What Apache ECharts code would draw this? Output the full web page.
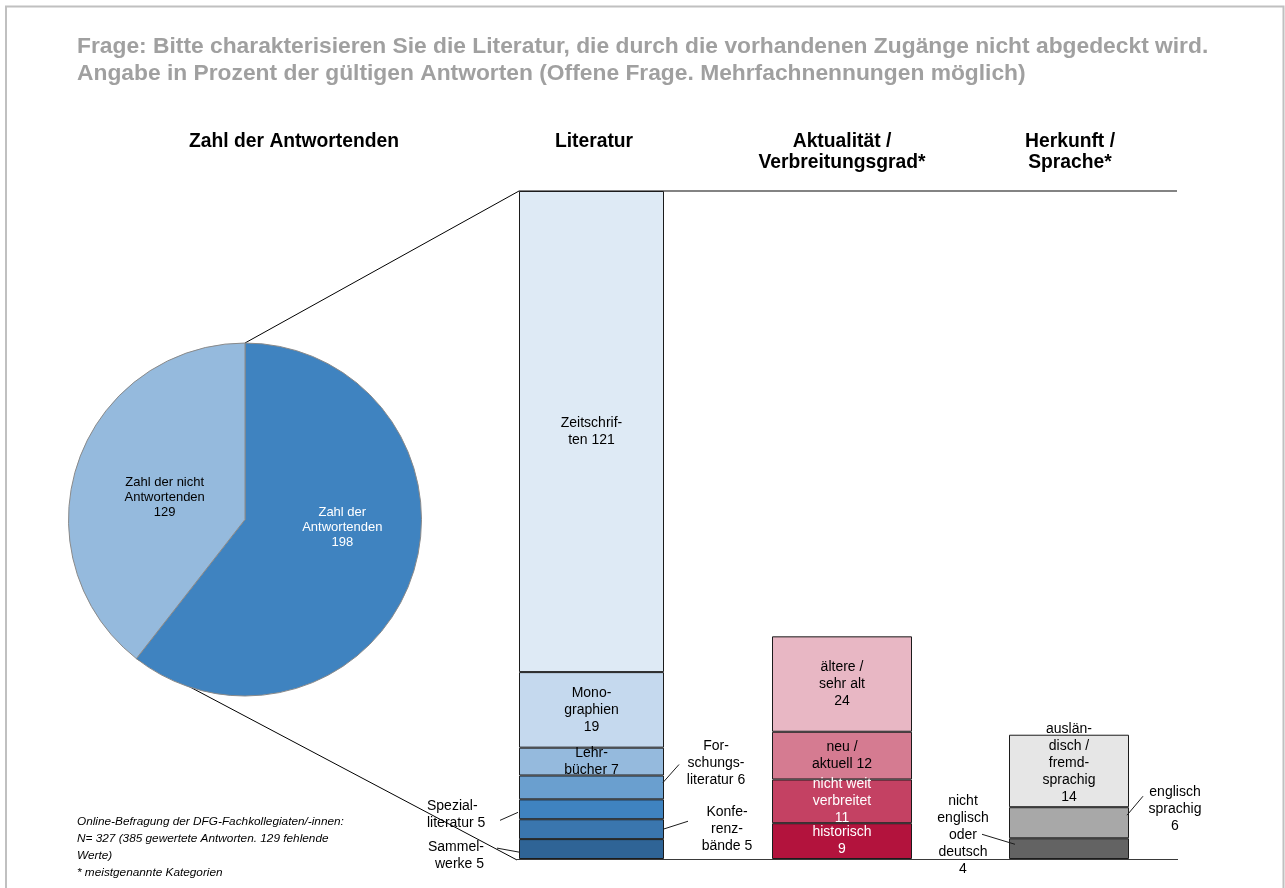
<!DOCTYPE html>
<html>
<head>
<meta charset="utf-8">
<script src="https://cdn.jsdelivr.net/npm/echarts@6/dist/echarts.min.js"></script>
<style>
  html, body { margin: 0; padding: 0; background: #fff; }
  #c { width: 1285px; height: 888px; }
</style>
</head>
<body>
<div id="c"></div>
<script>
// ---- data ----
const pieNames  = ['Zahl der\nAntwortenden', 'Zahl der nicht\nAntwortenden'];
const pieValues = [198, 129];

// stacked from the bottom up
const litNames  = ['Sammelwerke', 'Konferenzbände', 'Spezialliteratur', 'Forschungsliteratur', 'Lehrbücher', 'Monographien', 'Zeitschriften'];
const litValues = [5, 5, 5, 6, 7, 19, 121];
const litLabels = ['Sammel-\nwerke {c}', 'Konfe-\nrenz-\nbände {c}', 'Spezial-\nliteratur {c}', 'For-\nschungs-\nliteratur {c}', 'Lehr-\nbücher {c}', 'Mono-\ngraphien\n{c}', 'Zeitschrif-\nten {c}'];

const aktNames  = ['historisch', 'nicht weit verbreitet', 'neu / aktuell', 'ältere / sehr alt'];
const aktValues = [9, 11, 12, 24];
const aktLabels = ['historisch\n{c}', 'nicht weit\nverbreitet\n{c}', 'neu /\naktuell {c}', 'ältere /\nsehr alt\n{c}'];

const herNames  = ['nicht englisch oder deutsch', 'englisch sprachig', 'ausländisch / fremdsprachig'];
const herValues = [4, 6, 14];
const herLabels = ['nicht\nenglisch\noder\ndeutsch\n{c}', 'englisch\nsprachig\n{c}', 'auslän-\ndisch /\nfremd-\nsprachig\n{c}'];

const columnTitles = ['Zahl der Antwortenden', 'Literatur', 'Aktualität /\nVerbreitungsgrad*', 'Herkunft /\nSprache*'];
const questionText = 'Frage: Bitte charakterisieren Sie die Literatur, die durch die vorhandenen Zugänge nicht abgedeckt wird.\nAngabe in Prozent der gültigen Antworten (Offene Frage. Mehrfachnennungen möglich)';
const footnoteText = 'Online-Befragung der DFG-Fachkollegiaten/-innen:\nN= 327 (385 gewertete Antworten. 129 fehlende\nWerte)\n* meistgenannte Kategorien';

// ---- styling ----
const FONT = '"Liberation Sans", Arial, Helvetica, sans-serif';
const pieColors = ['#3F83C0', '#95BADD'];
const pieTextColors = ['#fff', '#000'];
// nudges for the inside pie labels, relative to the sector midpoint
const pieLabelShift = [{ dx: 11, dy: -22 }, { dx: 6, dy: 8 }];
const litColors = ['#2F6496', '#3A76AE', '#3F83C0', '#6A9FCF', '#95BADD', '#C5D9EE', '#DEEAF5'];
const aktColors = ['#B3133D', '#C44163', '#D57B91', '#E8B7C4'];
const aktText   = ['#fff', '#fff', '#000', '#000'];
const herColors = ['#636363', '#A8A8A8', '#E6E6E6'];

const PIE_CENTER = [245, 519.5];
const PIE_R = 176.5;
const GRID_TOP = 191, GRID_BOTTOM = 29;
const boxes = [
  { left: 519,  width: 145 },
  { left: 772,  width: 140 },
  { left: 1009, width: 120 }
];
const sum = a => a.reduce((s, v) => s + v, 0);
const LIT_MAX = sum(litValues);      // shared scale for the first two columns
const HER_MAX = 129;                 // third column uses its own scale

// outside-label placement (offsets from the segment's top-left corner)
const litOutside = {
  0: { position: [-35, 16.5], align: 'right' },
  1: { position: [208, 9.5], align: 'center' },
  2: { position: [-92, 15.5], align: 'left' },
  3: { position: [197, -12], align: 'center' }
};
const herOutside = {
  0: { position: [-46, -3], align: 'center' },
  1: { position: [166, 1.5], align: 'center' }
};
// leader lines: [[x1,y1],[x2,y2]] relative to the segment's left/top
const litLeaders = {
  0: [[-22, 9], [0, 13]],
  1: [[144, 10], [169, 2]],
  2: [[-19, 21], [-1, 13]],
  3: [[144, 7], [160, -11]]
};
const herLeaders = {
  0: [[-27, -4], [6, 6]],
  1: [[118, 8], [134, -11]]
};

function barSeries(gi, names, values, labels, colors, textColors, outside) {
  return names.map((n, i) => {
    const o = outside && outside[i];
    const label = {
      show: true,
      formatter: labels[i],
      fontFamily: FONT,
      fontSize: 14,
      lineHeight: 17,
      color: textColors ? textColors[i] : '#000'
    };
    if (o) {
      label.position = o.position;
      label.align = o.align;
      label.verticalAlign = 'middle';
    } else {
      label.position = 'inside';
      if (gi === 2 && i === 2) label.offset = [0, -8];
    }
    return {
      type: 'bar',
      name: n,
      stack: 's' + gi,
      xAxisIndex: gi,
      yAxisIndex: gi,
      barWidth: '100%',
      data: [values[i]],
      itemStyle: { color: colors[i], borderColor: '#1b1b1b', borderWidth: 1 },
      label: label,
      emphasis: { disabled: true },
      z: 3
    };
  });
}

const option = {
  animation: false,
  backgroundColor: '#fff',
  grid: boxes.map(b => ({ left: b.left, width: b.width, top: GRID_TOP, bottom: GRID_BOTTOM })),
  xAxis: boxes.map((b, i) => ({ type: 'category', gridIndex: i, data: [''], show: false })),
  yAxis: [
    { type: 'value', gridIndex: 0, min: 0, max: LIT_MAX, show: false },
    { type: 'value', gridIndex: 1, min: 0, max: LIT_MAX, show: false },
    { type: 'value', gridIndex: 2, min: 0, max: HER_MAX, show: false }
  ],
  series: [
    {
      type: 'pie',
      center: PIE_CENTER,
      radius: PIE_R,
      startAngle: 90,
      clockwise: true,
      z: 4,
      emphasis: { disabled: true },
      data: pieNames.map((n, i) => ({
        name: n,
        value: pieValues[i],
        itemStyle: { color: pieColors[i], borderColor: '#8a8a8a', borderWidth: 1 },
        label: { color: pieTextColors[i] }
      })),
      label: {
        show: true,
        position: 'inside',
        formatter: '{b}\n{c}',
        fontFamily: FONT,
        fontSize: 13,
        lineHeight: 15
      },
      labelLine: { show: false }
    },
    ...barSeries(0, litNames, litValues, litLabels, litColors, null, litOutside),
    ...barSeries(1, aktNames, aktValues, aktLabels, aktColors, aktText, null),
    ...barSeries(2, herNames, herValues, herLabels, herColors, null, herOutside)
  ]
};

const chart = echarts.init(document.getElementById('c'), null, { renderer: 'canvas' });
chart.setOption(option);

// pixel y of a stacked value in a given column
const yPix = (gi, v) => chart.convertToPixel({ xAxisIndex: gi, yAxisIndex: gi }, [0, v])[1];

const g = [];
const line = (x1, y1, x2, y2, color, w, z) => g.push({
  type: 'line', z: z, silent: true,
  shape: { x1, y1, x2, y2 },
  style: { stroke: color, lineWidth: w }
});

// outer frame
g.push({ type: 'rect', z: 0, silent: true,
  shape: { x: 6, y: 6.5, width: 1277.5, height: 1000 },
  style: { fill: 'none', stroke: '#C0C0C0', lineWidth: 2 } });

// baseline and top rule across the columns
const y0 = yPix(0, 0), yTop = yPix(0, LIT_MAX);
line(517, y0 + 0.5, 1178, y0 + 0.5, '#3a3a3a', 1.2, 5);
line(boxes[0].left, yTop, 1177, yTop, '#5a5a5a', 1.6, 2);

// pie-to-column connectors
const frac = pieValues[0] / sum(pieValues);
const ang = frac * 2 * Math.PI;
line(PIE_CENTER[0], PIE_CENTER[1] - PIE_R, boxes[0].left, yTop, '#000', 1, 1);
line(PIE_CENTER[0] + PIE_R * Math.sin(ang), PIE_CENTER[1] - PIE_R * Math.cos(ang),
     boxes[0].left - 2, y0 + 1, '#000', 1, 1);

// leader lines for labels placed beside the columns
function leaders(gi, values, defs) {
  Object.keys(defs).forEach(k => {
    const i = +k;
    const top = yPix(gi, sum(values.slice(0, i + 1)));
    const [[ax, ay], [bx, by]] = defs[k];
    const L = boxes[gi].left;
    line(L + ax, top + ay, L + bx, top + by, '#1b1b1b', 1, 6);
  });
}
leaders(0, litValues, litLeaders);
leaders(2, herValues, herLeaders);

// texts
const text = (x, y, t, st) => g.push({
  type: 'text', x, y, z: 7, silent: true,
  style: Object.assign({ text: t, fontFamily: FONT, fill: '#000' }, st)
});
text(77, 33.5, questionText, { fontSize: 22.8, fontWeight: 'bold', fill: '#A0A0A0', lineHeight: 27, align: 'left', verticalAlign: 'top' });
const titleX = [294, 594, 842, 1070];
columnTitles.forEach((t, i) => text(titleX[i], 131.5, t, { fontSize: 19.3, fontWeight: 'bold', lineHeight: 21, align: 'center', verticalAlign: 'top' }));
text(77, 813.5, footnoteText, { fontSize: 11.8, fontStyle: 'italic', lineHeight: 17, align: 'left', verticalAlign: 'top' });

// add the annotations, and shift the pie labels once from their default spot
chart.setOption({
  graphic: { elements: g },
  series: [{ labelLayout: p => pieLabelShift[p.dataIndex] }]
});
</script>
</body>
</html>
